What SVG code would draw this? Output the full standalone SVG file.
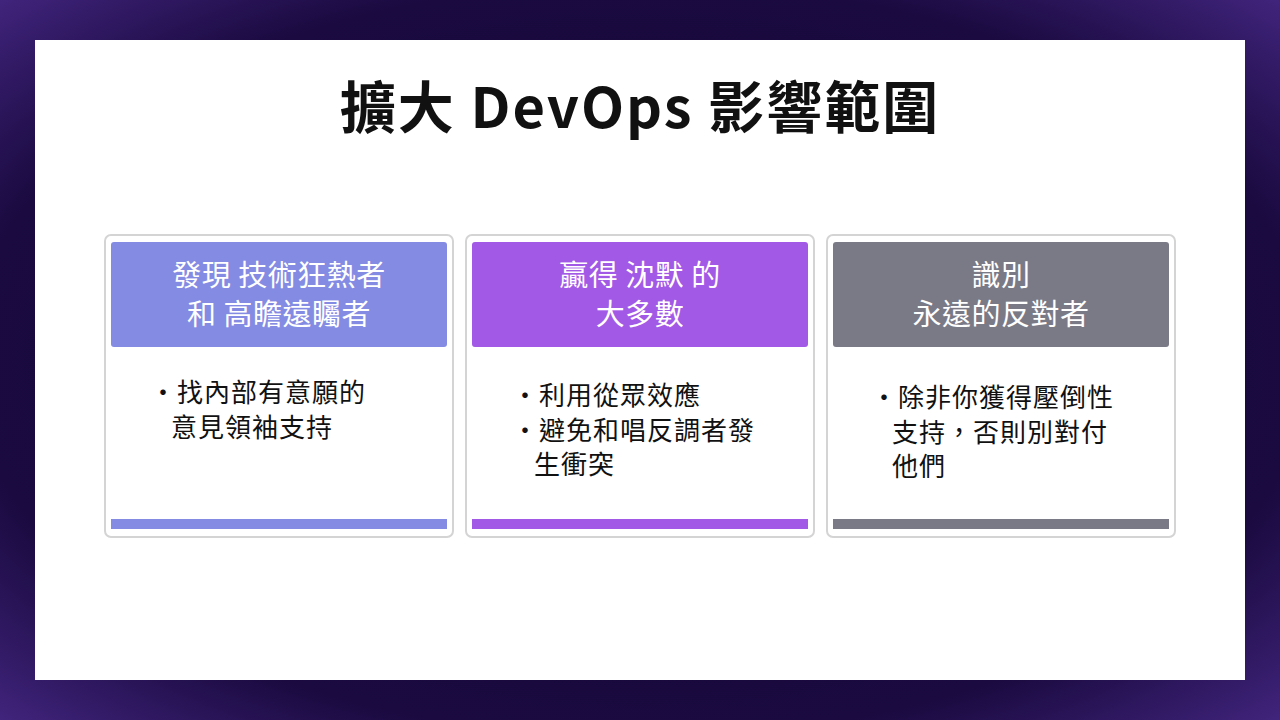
<svg xmlns="http://www.w3.org/2000/svg" width="1280" height="720" viewBox="0 0 1280 720">
<defs>
<radialGradient id="bg" cx="50%" cy="50%" r="75%">
<stop offset="0" stop-color="#12052e"/><stop offset="0.7" stop-color="#1a0a40"/><stop offset="1" stop-color="#4a2a8a"/>
</radialGradient>
</defs>
<style>
.card{fill:#fff;stroke:#d4d4d4;stroke-width:2}
.h{font-family:"Noto Sans CJK TC","Noto Sans",sans-serif;font-size:29px;fill:#fff;text-anchor:middle;letter-spacing:0.5px}
.b{font-family:"Noto Sans CJK TC","Noto Sans",sans-serif;font-size:26px;fill:#111;letter-spacing:1px}
</style>
<rect width="1280" height="720" fill="url(#bg)"/>
<rect x="35" y="40" width="1210" height="640" fill="#fff"/>
<text x="640" y="128" text-anchor="middle" font-family="'Noto Sans CJK TC','Noto Sans',sans-serif" font-size="56" font-weight="bold" fill="#111" letter-spacing="2">擴大 DevOps 影響範圍</text>
<g id="card1">
<rect class="card" x="105" y="235" width="348" height="302" rx="6"/>
<rect x="111" y="242" width="336" height="105" rx="3" fill="#848be3"/>
<rect x="111" y="519" width="336" height="10" fill="#848be3"/>
<text class="h" x="279" y="286">發現 技術狂熱者</text>
<text class="h" x="279" y="325">和 高瞻遠矚者</text>
<text class="b" x="150" y="402">・找內部有意願的</text>
<text class="b" x="171" y="437">意見領袖支持</text>
</g>
<g id="card2">
<rect class="card" x="466" y="235" width="348" height="302" rx="6"/>
<rect x="472" y="242" width="336" height="105" rx="3" fill="#a259e6"/>
<rect x="472" y="519" width="336" height="10" fill="#a259e6"/>
<text class="h" x="640" y="286">贏得 沈默 的</text>
<text class="h" x="640" y="325">大多數</text>
<text class="b" x="512" y="405">・利用從眾效應</text>
<text class="b" x="512" y="440">・避免和唱反調者發</text>
<text class="b" x="534" y="474">生衝突</text>
</g>
<g id="card3">
<rect class="card" x="827" y="235" width="348" height="302" rx="6"/>
<rect x="833" y="242" width="336" height="105" rx="3" fill="#7a7a87"/>
<rect x="833" y="519" width="336" height="10" fill="#7a7a87"/>
<text class="h" x="1001" y="286">識別</text>
<text class="h" x="1001" y="325">永遠的反對者</text>
<text class="b" x="871" y="407">・除非你獲得壓倒性</text>
<text class="b" x="892" y="442">支持，否則別對付</text>
<text class="b" x="892" y="476">他們</text>
</g>
<g id="connectors"/>
</svg>
